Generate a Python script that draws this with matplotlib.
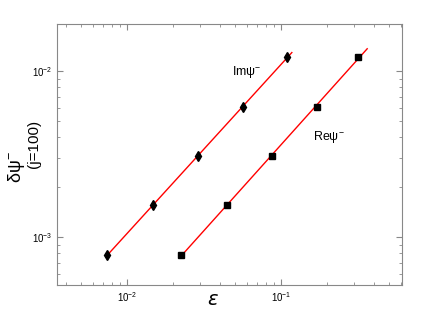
import numpy as np
import matplotlib
matplotlib.use('Agg')
import matplotlib.pyplot as plt
from matplotlib.ticker import LogLocator, NullFormatter

# data
eps_im = [0.0074, 0.0148, 0.0290, 0.0567, 0.109]
dpsi_im = [0.00078, 0.00156, 0.00307, 0.00607, 0.0121]
eps_re = [0.0225, 0.0446, 0.0875, 0.171, 0.316]
dpsi_re = [0.00078, 0.00156, 0.00307, 0.00610, 0.0121]

plt.rcParams['font.family'] = ['Liberation Sans', 'DejaVu Sans']

fig = plt.figure(figsize=(4.44, 3.23), dpi=100)
ax = fig.add_axes([0.128, 0.118, 0.777, 0.808])


def fit_line(x, y, stretch):
    p = np.polyfit(np.log10(x), np.log10(y), 1)
    xs = np.array([x[0], x[-1] * stretch])
    return xs, 10 ** np.polyval(p, np.log10(xs))


xs, ys = fit_line(eps_im, dpsi_im, 1.08)
ax.plot(xs, ys, color='red', lw=1)
xs, ys = fit_line(eps_re, dpsi_re, 1.15)
ax.plot(xs, ys, color='red', lw=1)

ax.plot(eps_im, dpsi_im, 'kd', ms=5, ls='none')
ax.plot(eps_re, dpsi_re, 'ks', ms=4.5, ls='none')

ax.set_xscale('log')
ax.set_yscale('log')
ax.set_xlim(0.0035, 0.61)
ax.set_ylim(5.15e-4, 0.0192)

ax.text(0.048, 0.0099, r'Im$\mathregular{\psi^{-}}$', fontsize=9, va='center')
ax.text(0.161, 0.0040, r'Re$\mathregular{\psi^{-}}$', fontsize=9, va='center')

# axis labels placed by hand, as in the reference
fig.text(0.48, 0.071, r'$\epsilon$', fontsize=14, ha='center', va='center')
fig.text(0.038, 0.483, r'δ$\mathregular{\psi^{-}}$', fontsize=13, rotation=90,
         ha='center', va='center')
fig.text(0.077, 0.554, '(j=100)', fontsize=11, rotation=90,
         ha='center', va='center')

for s in ax.spines.values():
    s.set_color('#888888')
    s.set_linewidth(0.8)
ax.tick_params(which='both', direction='in', top=True, right=True,
               color='#888888', labelsize=7)
ax.tick_params(which='major', length=4)
ax.tick_params(which='minor', length=2)
ax.xaxis.set_minor_locator(LogLocator(base=10, subs=np.arange(2, 10)))
ax.yaxis.set_minor_locator(LogLocator(base=10, subs=np.arange(2, 10)))
ax.xaxis.set_minor_formatter(NullFormatter())
ax.yaxis.set_minor_formatter(NullFormatter())

fig.savefig('out.png', dpi=100)
